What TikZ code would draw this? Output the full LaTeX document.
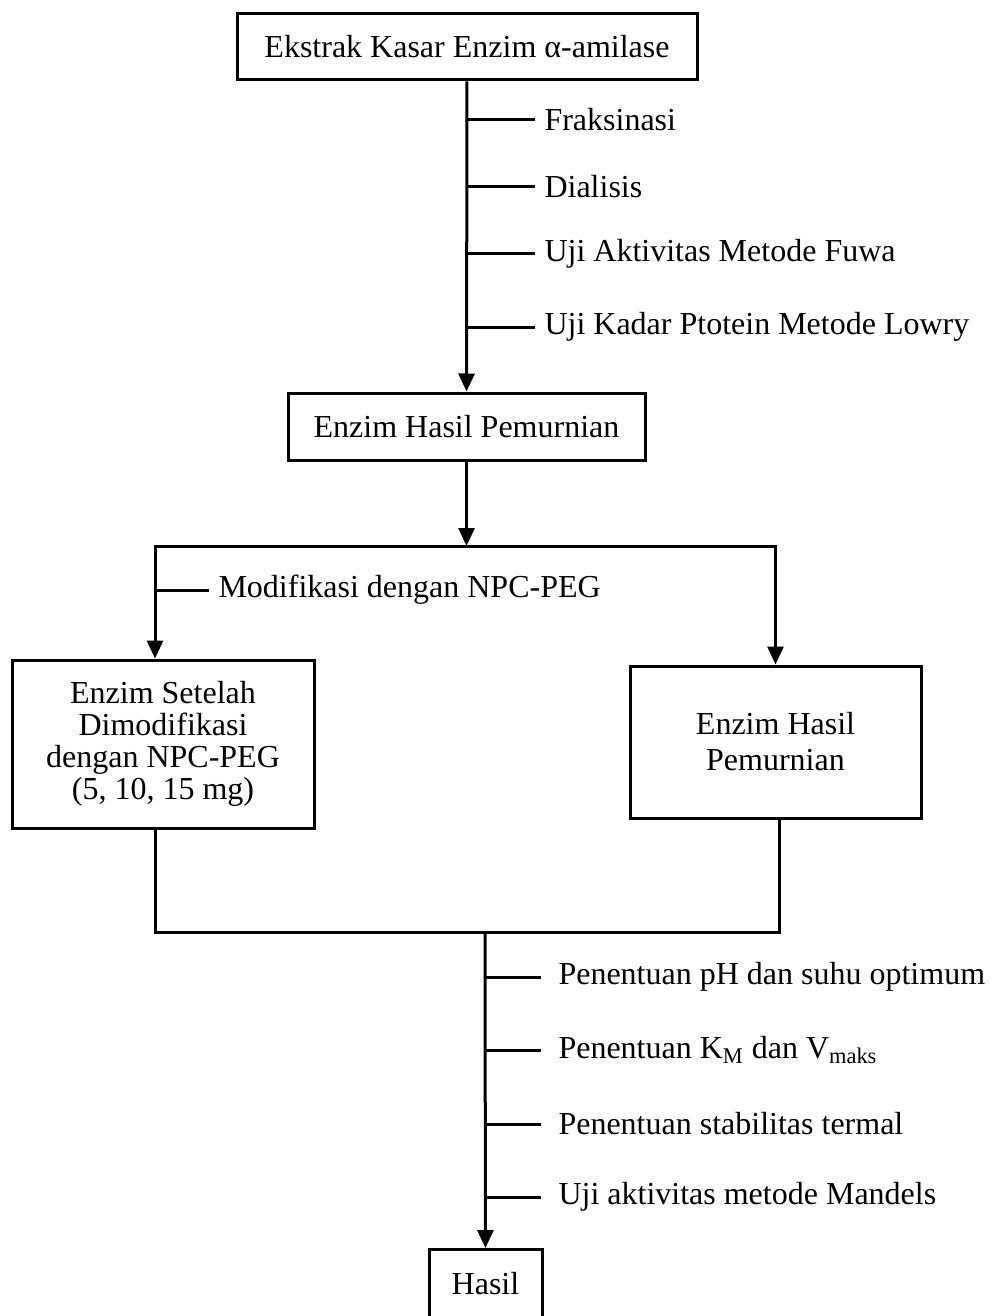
\documentclass[tikz,border=0pt]{standalone}
\usepackage{fontspec}
\setmainfont{Liberation Serif}
\usetikzlibrary{arrows.meta, positioning}
\tikzset{
  every picture/.style={line width=1.5pt, x=0.5pt, y=-0.5pt},
  box/.style={draw, align=center, inner sep=4pt, font=\fontsize{16}{16}\selectfont},
  arrow/.style={-{Triangle[length=9pt, width=8pt]}},
  steplabel/.style={anchor=west, inner sep=4pt, font=\fontsize{16}{18}\selectfont},
}

\begin{document}
\begin{tikzpicture}
  \clip (0,0) rectangle (990,1316);
  % purification
  \node[box, minimum width=230pt, minimum height=33pt] (crude) at (467,47) {Ekstrak Kasar Enzim α-amilase};
  \node[box, minimum width=178.5pt, minimum height=33.5pt] (pure) at (466.5,426.5) {Enzim Hasil Pemurnian};
  \draw[arrow] (crude) -- (pure);
  \foreach \y/\t [count=\i] in {120/Fraksinasi, 187/Dialisis, 254/Uji Aktivitas Metode Fuwa, 327/Uji Kadar Ptotein Metode Lowry} {
    \node[steplabel] (p\i) at (535,\y) {\t};
    \draw (crude.south |- p\i.west) -- (p\i.west);
  }
  % modification
  \coordinate (split) at (466.5,546);
  \draw[arrow] (pure) -- (split);
  \node[box, minimum width=151pt, minimum height=84pt] (mod) at (163,744) {Enzim Setelah\\Dimodifikasi\\dengan NPC-PEG\\(5, 10, 15 mg)};
  \node[box, minimum width=145.5pt, minimum height=76pt, font=\fontsize{16}{18}\selectfont] (pure2) at (775.5,742) {Enzim Hasil\\Pemurnian};
  \draw[arrow] (split) -| ([xshift=-4pt]mod.north);
  \draw[arrow] (split) -| (pure2.north);
  \node[steplabel] (modlabel) at (209,590) {Modifikasi dengan NPC-PEG};
  \draw ([xshift=-4pt]mod.north |- modlabel.west) -- (modlabel.west);
  % characterisation
  \coordinate (join) at (485,932);
  \draw ([xshift=-4pt]mod.south) |- (join) -| ([xshift=2pt]pure2.south);
  \node[box, minimum width=56.5pt, minimum height=34pt, anchor=north] (hasil) at (485.5,1248) {Hasil};
  \draw[arrow] (join) -- (hasil);
  \foreach \y/\t [count=\i] in {977/Penentuan pH dan suhu optimum, 1050/{Penentuan K\textsubscript{M} dan V\textsubscript{maks}}, 1124/Penentuan stabilitas termal, 1197/Uji aktivitas metode Mandels} {
    \node[steplabel] (t\i) at (549,\y) {\t};
    \draw (join |- t\i.west) -- ([xshift=-4pt]t\i.west);
  }
\end{tikzpicture}
\end{document}
